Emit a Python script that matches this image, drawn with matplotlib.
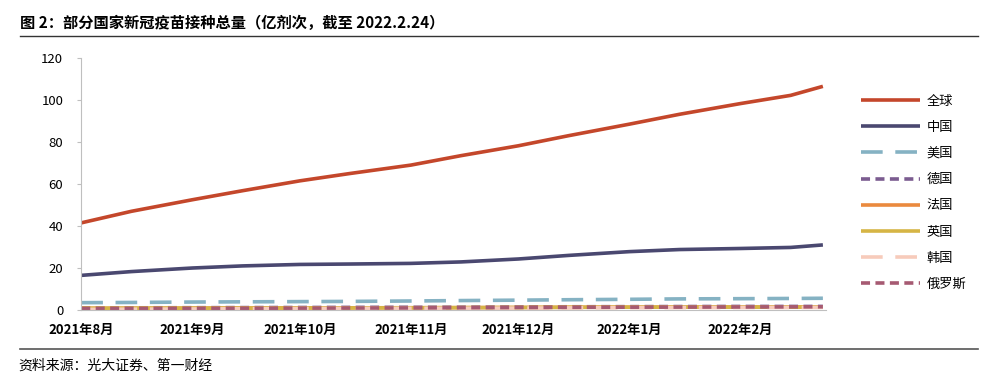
import numpy as np
import pandas as pd
import matplotlib
matplotlib.use("Agg")
import matplotlib.pyplot as plt
import matplotlib.dates as mdates

plt.rcParams['font.family'] = ['Noto Sans CJK SC', 'DejaVu Sans']

# semi-monthly readings (亿剂次)
dates = pd.to_datetime([
    '2021-08-01', '2021-08-15', '2021-09-01', '2021-09-15', '2021-10-01',
    '2021-10-15', '2021-11-01', '2021-11-15', '2021-12-01', '2021-12-15',
    '2022-01-01', '2022-01-15', '2022-02-01', '2022-02-15', '2022-02-24'])
world = [41.5, 47, 52.5, 56.8, 61.5, 65, 69, 73.5, 78.2, 83, 88.5, 93.2, 98.3, 102.2, 106.5]
china = [16.5, 18.3, 20, 21, 21.7, 21.9, 22.2, 22.9, 24.3, 26, 27.8, 28.8, 29.3, 29.8, 31]
usa = [3.5, 3.6, 3.8, 3.9, 4.0, 4.1, 4.3, 4.5, 4.7, 4.9, 5.1, 5.3, 5.4, 5.5, 5.6]
germany = [1.0, 1.05, 1.1, 1.15, 1.2, 1.25, 1.3, 1.35, 1.45, 1.55, 1.6, 1.65, 1.7, 1.7, 1.7]
france = [0.8, 0.85, 0.9, 0.95, 1.0, 1.05, 1.1, 1.15, 1.2, 1.3, 1.35, 1.4, 1.45, 1.45, 1.5]
uk = [0.85, 0.88, 0.9, 0.92, 0.95, 1.0, 1.05, 1.12, 1.2, 1.3, 1.35, 1.38, 1.4, 1.4, 1.4]
korea = [0.3, 0.4, 0.5, 0.6, 0.7, 0.75, 0.8, 0.85, 0.9, 1.0, 1.1, 1.15, 1.2, 1.22, 1.25]
russia = [0.7, 0.75, 0.8, 0.85, 0.9, 0.95, 1.0, 1.1, 1.2, 1.3, 1.35, 1.4, 1.45, 1.5, 1.55]

labels = ['全球', '中国', '美国', '德国', '法国', '英国', '韩国', '俄罗斯']
series = [world, china, usa, germany, france, uk, korea, russia]
colors = ['#C4472B', '#4A4870', '#85B2C3', '#7B5C90', '#EA8A3E', '#D6B545', '#F7CBBB', '#A65A72']
styles = ['-', '-', (0, (6, 3.5)), (0, (2.5, 1.5)), '-', '-', (0, (6, 3.5)), (0, (2.5, 1.5))]

fig = plt.figure(figsize=(10.03, 3.79), dpi=100)
ax = fig.add_axes([0.081, 0.182, 0.743, 0.665])

for vals, lab, c, ls in zip(series, labels, colors, styles):
    ax.plot(dates, vals, color=c, lw=2.6, ls=ls, label=lab, solid_capstyle='butt')

ax.set_ylim(0, 120)
ax.set_yticks(range(0, 121, 20))
ax.set_xlim(pd.Timestamp('2021-08-01'), pd.Timestamp('2022-02-25'))
ax.xaxis.set_major_locator(mdates.MonthLocator())
ax.xaxis.set_major_formatter(plt.FuncFormatter(
    lambda v, p: f"{mdates.num2date(v).year}年{mdates.num2date(v).month}月"))
for s in ['top', 'right']:
    ax.spines[s].set_visible(False)
ax.spines['left'].set_color('#bfbfbf')
ax.spines['bottom'].set_color('#bfbfbf')
ax.tick_params(axis='y', length=3, color='#bfbfbf', labelsize=9.5, pad=10)
ax.tick_params(axis='x', length=0, labelsize=9.5, pad=9)
for t in ax.get_xticklabels():
    t.set_fontweight('bold')

ax.legend(loc='center left', bbox_to_anchor=(1.03, 0.465), frameon=False,
          fontsize=9.5, handlelength=4.5, labelspacing=1.0, handletextpad=0.5)

fig.text(0.02, 0.94, '图 2：部分国家新冠疫苗接种总量（亿剂次，截至 2022.2.24）',
         fontsize=11, fontweight='bold', va='center')
fig.add_artist(plt.Line2D([0.02, 0.975], [0.905, 0.905], color='#333333', lw=1))
fig.add_artist(plt.Line2D([0.02, 0.975], [0.08, 0.08], color='#555555', lw=1.2))
fig.text(0.018, 0.035, '资料来源：光大证券、第一财经', fontsize=10, va='center')

fig.savefig('out.png', dpi=100)
